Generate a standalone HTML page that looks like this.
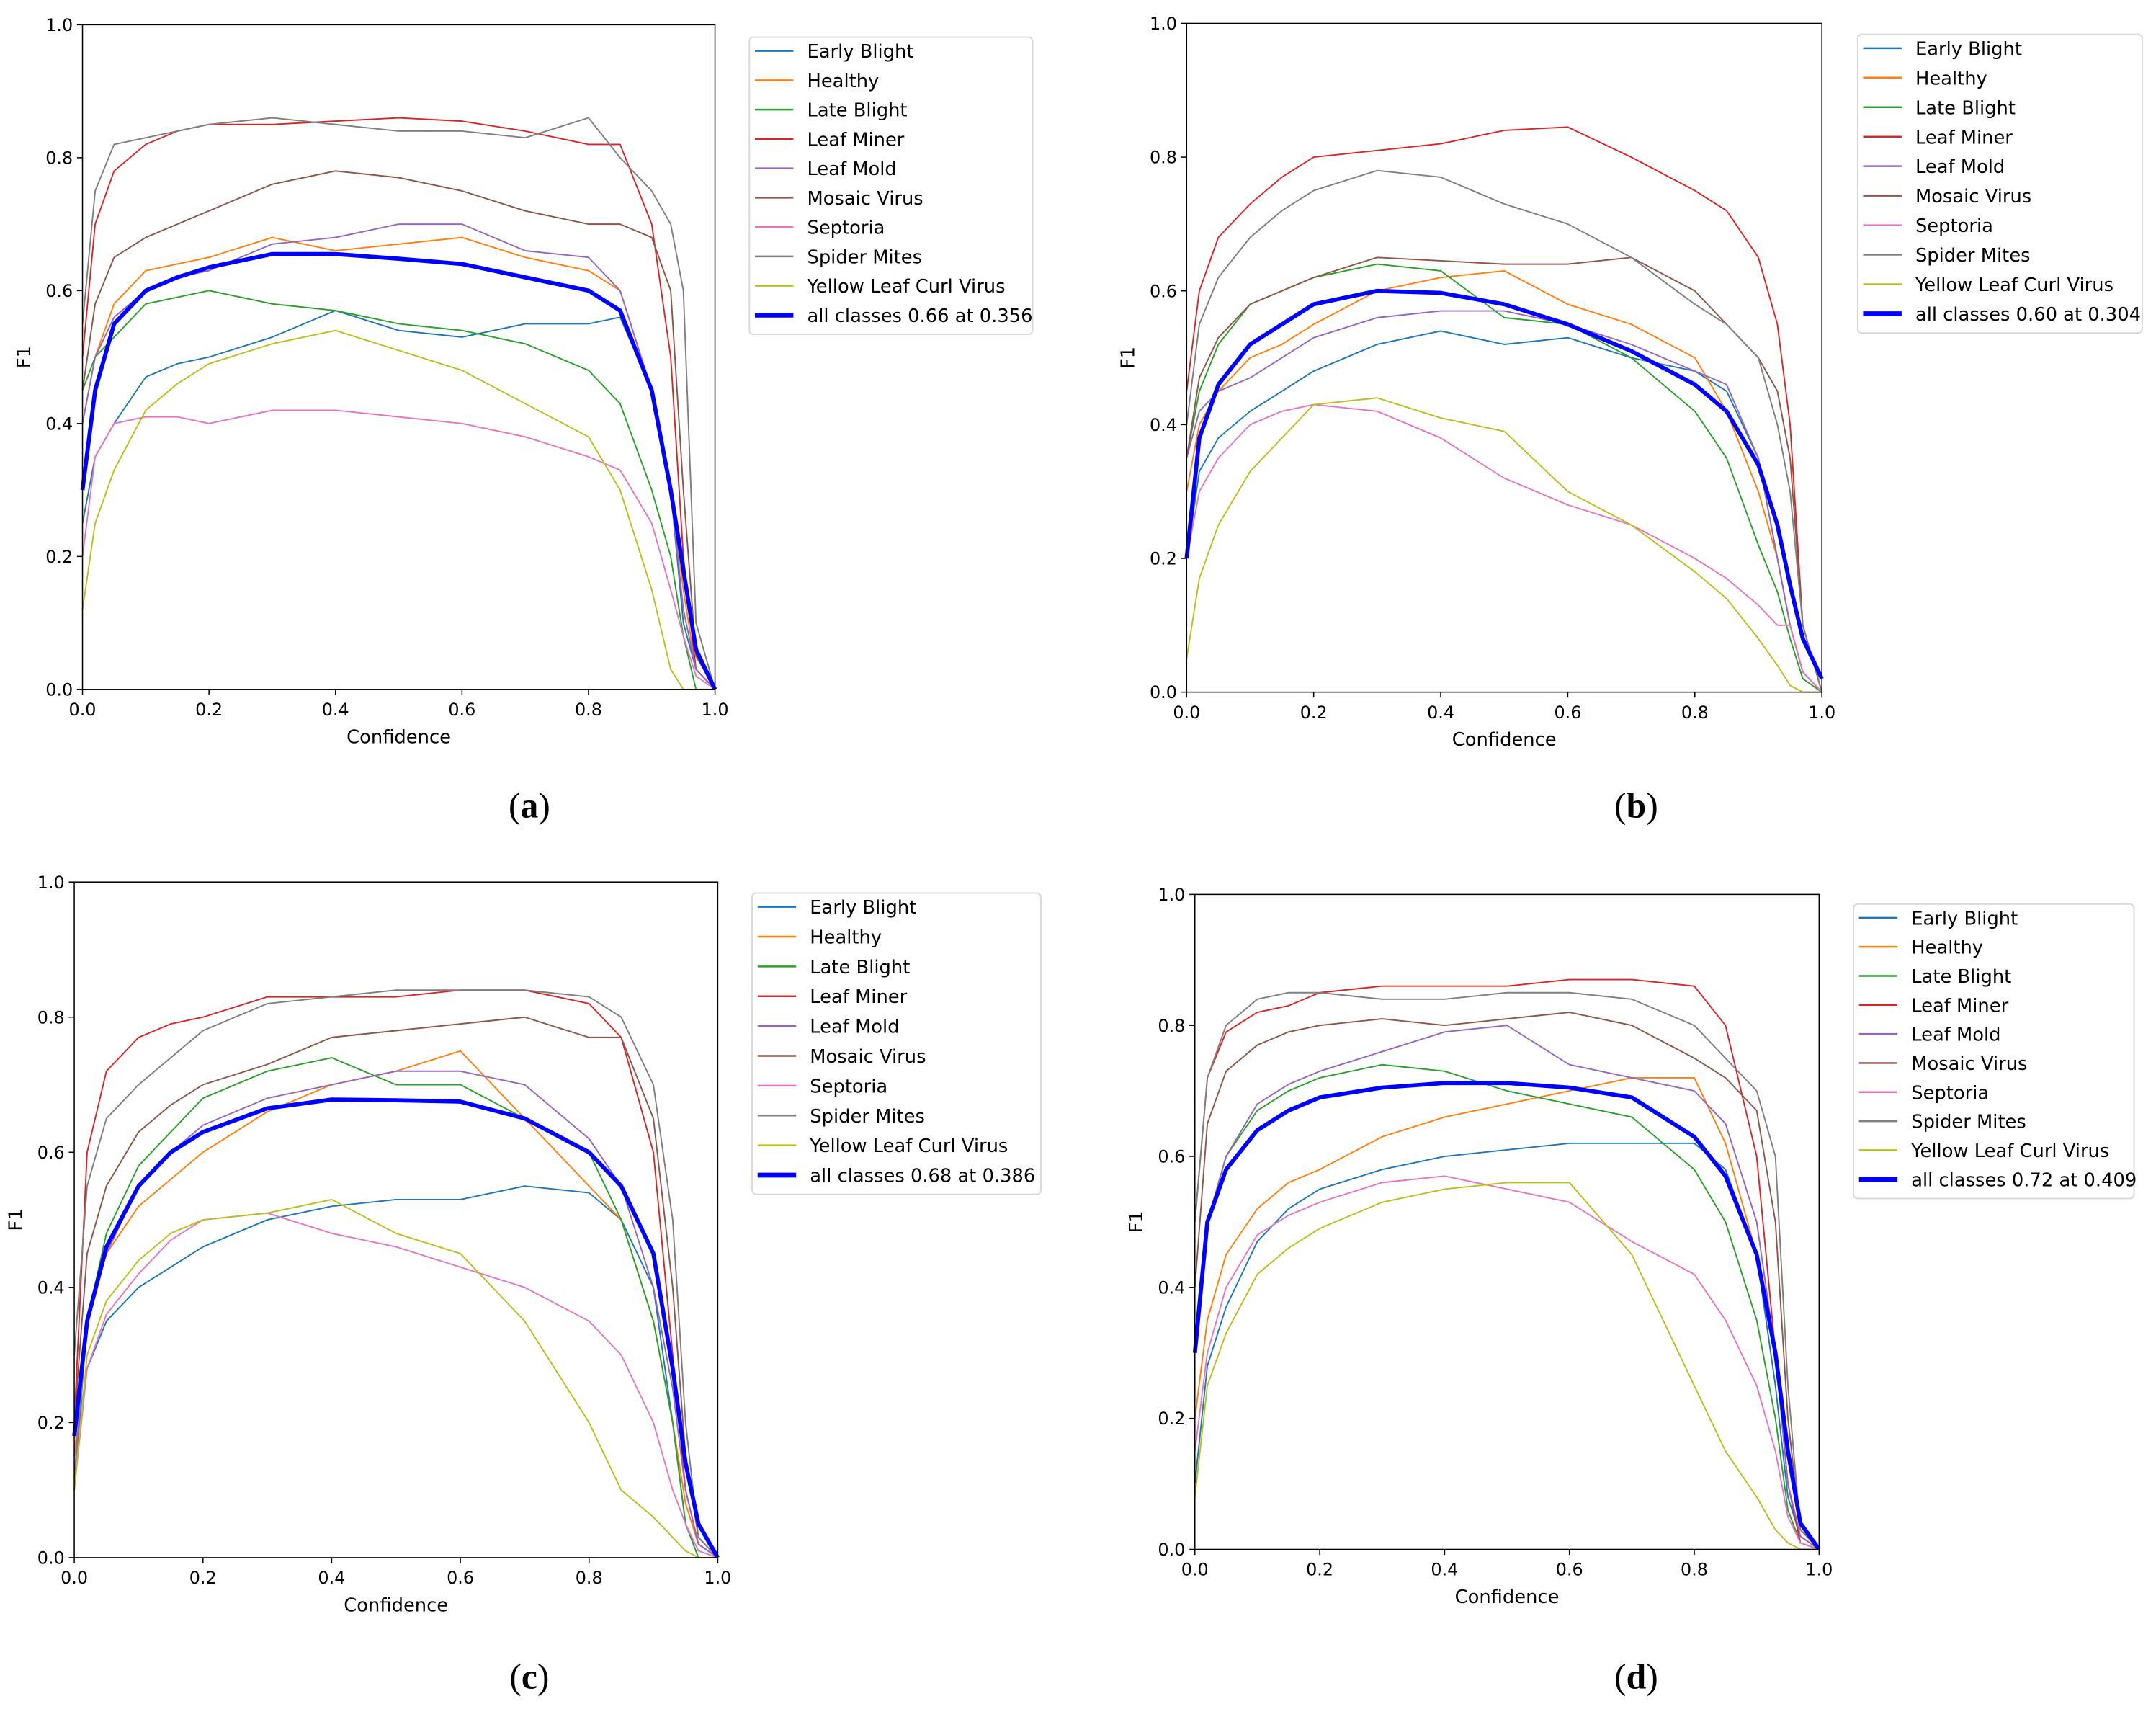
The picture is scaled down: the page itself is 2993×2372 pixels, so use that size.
<!DOCTYPE html>
<html><head><meta charset="utf-8"><style>
html,body{margin:0;padding:0;background:#fff;}
svg{display:block;}
text{font-family:"DejaVu Sans","Liberation Sans",sans-serif;}
</style></head>
<body>
<svg id="fig" xmlns="http://www.w3.org/2000/svg" width="2993" height="2372" viewBox="0 0 1568 1242" preserveAspectRatio="none"></svg>
<script>
const xs = [0,0.02,0.05,0.1,0.15,0.2,0.3,0.4,0.5,0.6,0.7,0.8,0.85,0.9,0.93,0.95,0.97,1.0];
const classNames = ["Early Blight","Healthy","Late Blight","Leaf Miner","Leaf Mold","Mosaic Virus","Septoria","Spider Mites","Yellow Leaf Curl Virus"];
const yTicks = [0,0.2,0.4,0.6,0.8,1.0];
const xTicks = [0,0.2,0.4,0.6,0.8,1.0];
const tickLabels = ["0.0","0.2","0.4","0.6","0.8","1.0"];
const panelLabels = ["a","b","c","d"];
const allLabels = ["all classes 0.66 at 0.356","all classes 0.60 at 0.304","all classes 0.68 at 0.386","all classes 0.72 at 0.409"];

const A_EB=[.25,.35,.4,.47,.49,.5,.53,.57,.54,.53,.55,.55,.56,.45,.3,.1,.03,0];
const A_HE=[.4,.5,.58,.63,.64,.65,.68,.66,.67,.68,.65,.63,.6,.45,.3,.15,.03,0];
const A_LB=[.45,.5,.53,.58,.59,.6,.58,.57,.55,.54,.52,.48,.43,.3,.2,.08,0,0];
const A_LM=[.5,.7,.78,.82,.84,.85,.85,.855,.86,.855,.84,.82,.82,.7,.5,.2,.03,0];
const A_MO=[.4,.5,.56,.6,.62,.63,.67,.68,.7,.7,.66,.65,.6,.45,.3,.12,.03,0];
const A_MV=[.45,.58,.65,.68,.7,.72,.76,.78,.77,.75,.72,.7,.7,.68,.6,.3,.05,0];
const A_SE=[.2,.35,.4,.41,.41,.4,.42,.42,.41,.4,.38,.35,.33,.25,.15,.08,.02,0];
const A_SM=[.55,.75,.82,.83,.84,.85,.86,.85,.84,.84,.83,.86,.8,.75,.7,.6,.1,0];
const A_YL=[.12,.25,.33,.42,.46,.49,.52,.54,.51,.48,.43,.38,.3,.15,.03,0,0,0];
const A_ALL=[.3,.45,.55,.6,.62,.635,.655,.655,.648,.64,.62,.6,.57,.45,.3,.18,.06,0];

const B_EB=[.2,.33,.38,.42,.45,.48,.52,.54,.52,.53,.5,.48,.45,.35,.2,.1,.03,0];
const B_HE=[.3,.4,.45,.5,.52,.55,.6,.62,.63,.58,.55,.5,.42,.3,.2,.1,.03,0];
const B_LB=[.35,.45,.52,.58,.6,.62,.64,.63,.56,.55,.5,.42,.35,.22,.15,.08,.02,0];
const B_LM=[.45,.6,.68,.73,.77,.8,.81,.82,.84,.845,.8,.75,.72,.65,.55,.4,.1,0];
const B_MO=[.35,.42,.45,.47,.5,.53,.56,.57,.57,.55,.52,.48,.46,.35,.2,.1,.03,0];
const B_MV=[.35,.47,.53,.58,.6,.62,.65,.645,.64,.64,.65,.6,.55,.5,.45,.35,.1,0];
const B_SE=[.2,.3,.35,.4,.42,.43,.42,.38,.32,.28,.25,.2,.17,.13,.1,.1,.03,0];
const B_SM=[.4,.55,.62,.68,.72,.75,.78,.77,.73,.7,.65,.58,.55,.5,.4,.3,.1,0];
const B_YL=[.05,.17,.25,.33,.38,.43,.44,.41,.39,.3,.25,.18,.14,.08,.04,.01,0,0];
const B_ALL=[.2,.38,.46,.52,.55,.58,.6,.597,.58,.55,.51,.46,.42,.34,.25,.16,.08,.02];

const C_EB=[.15,.28,.35,.4,.43,.46,.5,.52,.53,.53,.55,.54,.5,.4,.2,.05,0,0];
const C_HE=[.15,.35,.45,.52,.56,.6,.66,.7,.72,.75,.65,.55,.5,.35,.2,.08,.02,0];
const C_LB=[.1,.35,.48,.58,.63,.68,.72,.74,.7,.7,.65,.6,.5,.35,.2,.05,0,0];
const C_LM=[.2,.6,.72,.77,.79,.8,.83,.83,.83,.84,.84,.82,.77,.6,.3,.1,.02,0];
const C_MO=[.12,.35,.45,.55,.6,.64,.68,.7,.72,.72,.7,.62,.55,.4,.25,.1,.02,0];
const C_MV=[.2,.45,.55,.63,.67,.7,.73,.77,.78,.79,.8,.77,.77,.65,.4,.15,.03,0];
const C_SE=[.1,.28,.36,.42,.47,.5,.51,.48,.46,.43,.4,.35,.3,.2,.1,.05,.01,0];
const C_SM=[.3,.55,.65,.7,.74,.78,.82,.83,.84,.84,.84,.83,.8,.7,.5,.2,.03,0];
const C_YL=[.1,.3,.38,.44,.48,.5,.51,.53,.48,.45,.35,.2,.1,.06,.03,.01,0,0];
const C_ALL=[.18,.35,.46,.55,.6,.63,.665,.678,.677,.675,.65,.6,.55,.45,.28,.14,.05,0];

const D_EB=[.1,.28,.37,.47,.52,.55,.58,.6,.61,.62,.62,.62,.58,.45,.25,.08,.02,0];
const D_HE=[.2,.35,.45,.52,.56,.58,.63,.66,.68,.7,.72,.72,.62,.45,.3,.1,.02,0];
const D_LB=[.3,.5,.6,.67,.7,.72,.74,.73,.7,.68,.66,.58,.5,.35,.2,.06,.01,0];
const D_LM=[.5,.72,.79,.82,.83,.85,.86,.86,.86,.87,.87,.86,.8,.6,.3,.1,.01,0];
const D_MO=[.3,.5,.6,.68,.71,.73,.76,.79,.8,.74,.72,.7,.65,.5,.3,.1,.02,0];
const D_MV=[.4,.65,.73,.77,.79,.8,.81,.8,.81,.82,.8,.75,.72,.67,.5,.2,.03,0];
const D_SE=[.15,.3,.4,.48,.51,.53,.56,.57,.55,.53,.47,.42,.35,.25,.15,.05,.01,0];
const D_SM=[.5,.72,.8,.84,.85,.85,.84,.84,.85,.85,.84,.8,.75,.7,.6,.25,.03,0];
const D_YL=[.08,.25,.33,.42,.46,.49,.53,.55,.56,.56,.45,.25,.15,.08,.03,.01,0,0];
const D_ALL=[.3,.5,.58,.64,.67,.69,.705,.712,.712,.705,.69,.63,.57,.45,.3,.15,.04,0];

const colors=["#1f77b4","#ff7f0e","#2ca02c","#d62728","#9467bd","#8c564b","#e377c2","#7f7f7f","#bcbd22"];
const panels=[
 {x0:60,x1:520,y0:501,y1:18,lx:545,ly:27,lw:206,lh:216,cap:[385,585],series:[A_EB,A_HE,A_LB,A_LM,A_MO,A_MV,A_SE,A_SM,A_YL],all:A_ALL},
 {x0:863,x1:1325,y0:503,y1:17,lx:1351,ly:25,lw:207,lh:217,cap:[1190,585],series:[B_EB,B_HE,B_LB,B_LM,B_MO,B_MV,B_SE,B_SM,B_YL],all:B_ALL},
 {x0:54,x1:522,y0:1132,y1:641,lx:547,ly:649,lw:210,lh:219,cap:[385,1218],series:[C_EB,C_HE,C_LB,C_LM,C_MO,C_MV,C_SE,C_SM,C_YL],all:C_ALL},
 {x0:869,x1:1323,y0:1126,y1:650,lx:1348,ly:657,lw:204,lh:214,cap:[1190,1218],series:[D_EB,D_HE,D_LB,D_LM,D_MO,D_MV,D_SE,D_SM,D_YL],all:D_ALL}
];
const NS="http://www.w3.org/2000/svg";
const svg=document.getElementById("fig");
function mk(tag,attrs,parent){const e=document.createElementNS(NS,tag);for(const k in attrs)e.setAttribute(k,attrs[k]);(parent||svg).appendChild(e);return e;}

panels.forEach((p,pi)=>{
  const g=mk("g",{});
  
  
  const sx=v=>p.x0+(p.x1-p.x0)*v;
  const sy=v=>p.y0+(p.y1-p.y0)*v;
  const pts=arr=>arr.map((v,i)=>sx(xs[i]).toFixed(2)+","+sy(v).toFixed(2)).join(" ");
  p.series.forEach((s,si)=>{
    const l=mk("polyline",{points:pts(s),fill:"none",stroke:colors[si],"stroke-width":1,"stroke-linejoin":"round"},g);
    
    
  });
  const la=mk("polyline",{points:pts(p.all),fill:"none",stroke:"#0000ff","stroke-width":3,"stroke-linejoin":"round"},g);
  
  
  const fr=mk("rect",{x:p.x0,y:p.y1,width:p.x1-p.x0,height:p.y0-p.y1,fill:"none",stroke:"#000","stroke-width":0.8},g);
  
  
  xTicks.forEach((t,i)=>{
    mk("line",{x1:sx(t),x2:sx(t),y1:p.y0,y2:p.y0+4,stroke:"#000","stroke-width":0.8},g);
    const tx=mk("text",{x:sx(t),y:p.y0+19,"font-size":12.5,"text-anchor":"middle",fill:"#000"},g);
    tx.textContent=tickLabels[i];
    
    
  });
  yTicks.forEach((t,i)=>{
    mk("line",{x1:p.x0-4,x2:p.x0,y1:sy(t),y2:sy(t),stroke:"#000","stroke-width":0.8},g);
    const ty=mk("text",{x:p.x0-7,y:sy(t)+4.5,"font-size":12.5,"text-anchor":"end",fill:"#000"},g);
    ty.textContent=tickLabels[i];
    
    
  });
  const xt=mk("text",{x:(p.x0+p.x1)/2,y:p.y0+39,"font-size":13.5,"text-anchor":"middle"},g);
  xt.textContent="Confidence";
  
  
  const yx=p.x0-38, yy=(p.y0+p.y1)/2;
  const yt=mk("text",{x:yx,y:yy,"font-size":13.5,"text-anchor":"middle",transform:`rotate(-90 ${yx} ${yy})`},g);
  yt.textContent="F1";
  
  
  const lg=mk("g",{},g);
  
  
  mk("rect",{x:p.lx,y:p.ly,width:p.lw,height:p.lh,rx:3,fill:"#fff",stroke:"#d8d8d8","stroke-width":1},lg);
  const step=(p.lh-24)/9;
  const names=classNames.concat([allLabels[pi]]);
  names.forEach((n,i)=>{
    const yy2=p.ly+10+i*step;
    const e=mk("g",{},lg);
    
    
    mk("line",{x1:p.lx+4,x2:p.lx+32,y1:yy2,y2:yy2,stroke:i<9?colors[i]:"#0000ff","stroke-width":i<9?1.3:3.5},e);
    const t=mk("text",{x:p.lx+42,y:yy2+5,"font-size":13.5},e);
    t.textContent=n;
  });
  const cap=mk("text",{x:p.cap[0],y:p.cap[1]+9,"font-size":26,"text-anchor":"middle",style:"font-family:'Liberation Serif',serif"},g);
  cap.innerHTML='(<tspan font-weight="bold">'+panelLabels[pi]+'</tspan>)';
  
  
});
</script>
</body></html>
